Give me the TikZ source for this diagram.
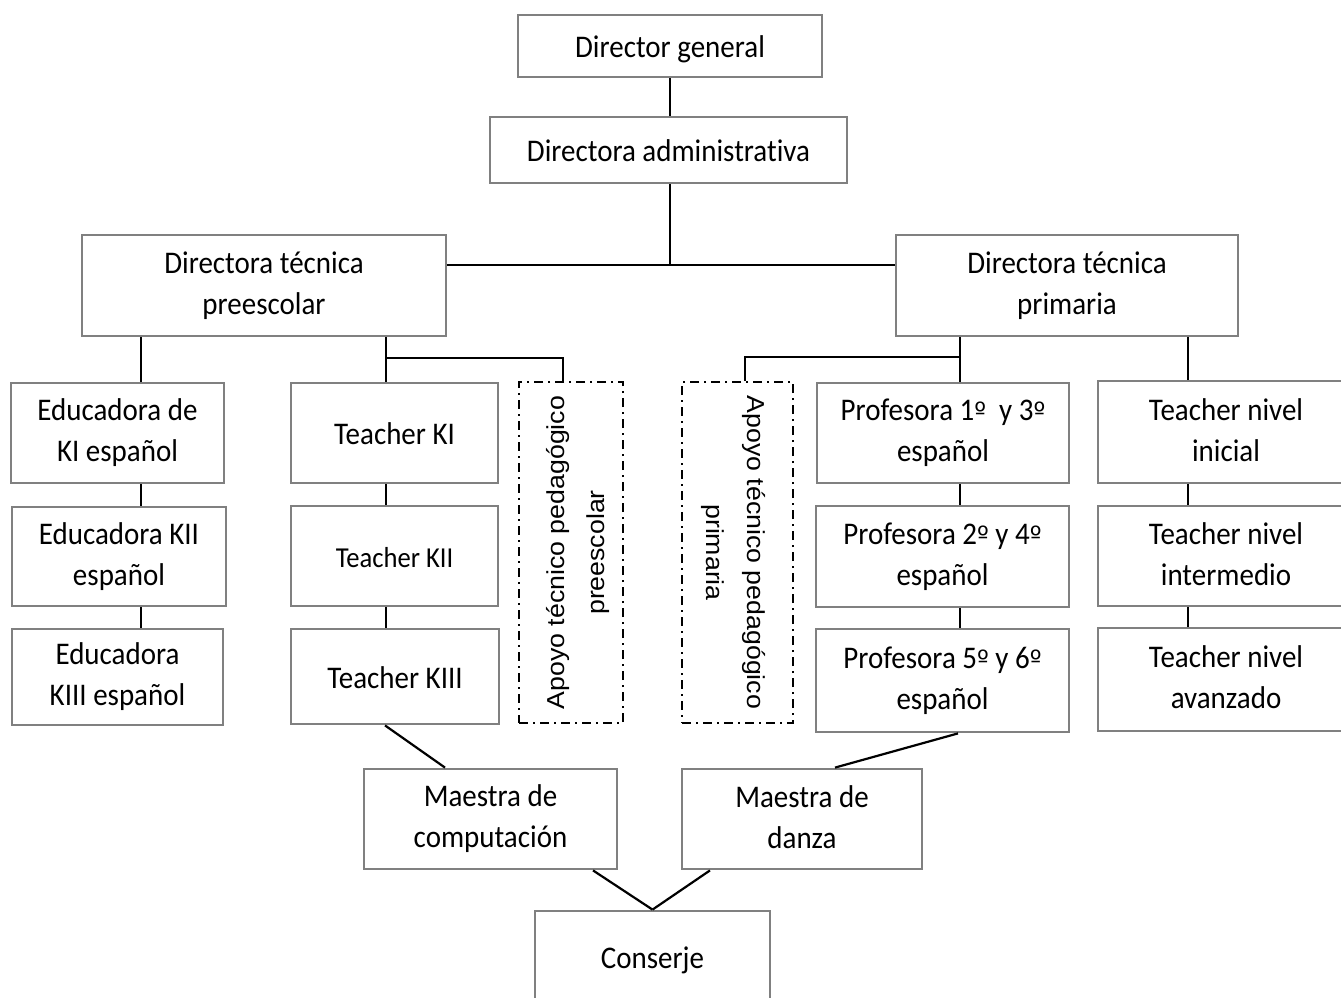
\documentclass[tikz,border=0pt]{standalone}
\usepackage{fontspec}
\setmainfont{Carlito}[FakeStretch=0.92,Ligatures=NoCommon]
\newfontfamily\arialf{Liberation Sans}
\newfontfamily\dvs{DejaVu Sans}
\newcommand\om{{\dvs\fontsize{25}{25}\selectfont º}}
\definecolor{boxgray}{RGB}{128,128,128}
\tikzset{
  box/.style={draw=boxgray, line width=2.8pt, fill=white, align=center, inner sep=0pt,
    font=\fontsize{31.5}{41}\selectfont,
    execute at begin node={\rule{0pt}{27.5pt}},
    execute at end node={\rule[-4pt]{0pt}{0pt}}},
  apbox/.style={draw=black, line width=2.2pt, dash pattern=on 9pt off 5pt on 2pt off 5pt,
    inner sep=0pt, fill=white},
  aplabel/.style={inner sep=0pt},
  conn/.style={line width=2.2pt, draw=black},
}
\newcommand\aptext[2]{\rotatebox{#1}{\scalebox{1}[0.92]{\arialf\fontsize{26.7}{43.5}\selectfont\begin{tabular}{@{}c@{}}#2\end{tabular}}}}
\begin{document}
\begin{tikzpicture}[x=1pt,y=-1pt]
\useasboundingbox (0,0) rectangle (1341,998);
\fill[white] (0,0) rectangle (1341,998);
\clip (0,0) rectangle (1341,998);

% helper coordinates for connector positions
\coordinate (J) at (670,265);
\coordinate (xE) at (141,0);
\coordinate (xT) at (386,0);
\coordinate (brL) at (563,358);
\coordinate (xP) at (960,0);
\coordinate (brR) at (745,357);
\coordinate (xN) at (1188,0);

\node[box, minimum width=304pt, minimum height=62pt] (dg) at (670,46) {Director general};
\node[box, minimum width=357pt, minimum height=66pt] (adm) at (668.5,150) {Directora administrativa};
\node[box, minimum width=364pt, minimum height=101pt] (pre) at (264,285.5) {Directora técnica\\preescolar};
\node[box, minimum width=342pt, minimum height=101pt] (pri) at (1067,285.5) {Directora técnica\\primaria};

\node[box, minimum width=213pt, minimum height=100pt] (e1) at (117.5,433) {Educadora de\\KI español};
\node[box, minimum width=214pt, minimum height=99pt] (e2) at (119,556.5) {Educadora KII\\español};
\node[box, minimum width=211pt, minimum height=96pt] (e3) at (117.5,677) {Educadora\\KIII español};

\node[box, minimum width=207pt, minimum height=100pt] (t1) at (394.5,433) {Teacher KI};
\node[box, minimum width=207pt, minimum height=100pt, font=\fontsize{28.9}{37}\selectfont] (t2) at (394.5,556) {Teacher KII};
\node[box, minimum width=208pt, minimum height=95pt] (t3) at (395,676.5) {Teacher KIII};

\node[apbox, minimum width=104pt, minimum height=341pt] (ap1) at (571,552.5) {};
\node[aplabel] (ap1t) at (576,552.5) {\aptext{90}{Apoyo técnico pedagógico\\preescolar}};
\node[apbox, minimum width=111pt, minimum height=341pt] (ap2) at (737.5,552.5) {};
\node[aplabel] (ap2t) at (735,552.5) {\aptext{-90}{Apoyo técnico pedagógico\\primaria}};

\node[box, minimum width=252pt, minimum height=100pt] (p1) at (943,433) {Profesora 1\om~ y 3\om\\español};
\node[box, minimum width=253pt, minimum height=101pt] (p2) at (942.5,556.5) {Profesora 2\om{} y 4\om\\español};
\node[box, minimum width=253pt, minimum height=103pt] (p3) at (942.5,680.5) {Profesora 5\om{} y 6\om\\español};

\node[box, minimum width=256pt, minimum height=102pt] (n1) at (1226,432) {Teacher nivel\\inicial};
\node[box, minimum width=256pt, minimum height=100pt] (n2) at (1226,556) {Teacher nivel\\intermedio};
\node[box, minimum width=256pt, minimum height=103pt] (n3) at (1226,679.5) {Teacher nivel\\avanzado};

\node[box, minimum width=253pt, minimum height=100pt] (mc) at (490.5,819) {Maestra de\\computación};
\node[box, minimum width=240pt, minimum height=100pt] (md) at (802,819) {Maestra de\\danza};
\node[box, minimum width=235pt, minimum height=92pt] (cs) at (652.5,957) {Conserje};

% connectors
\draw[conn] (dg.south) -- (adm.north -| dg.south);
\draw[conn] (adm.south -| J) -- (J);
\draw[conn] (J -| pre.east) -- (J -| pri.west);

\draw[conn] (pre.south -| xE) -- (e1.north -| xE);
\draw[conn] (e1.south -| xE) -- (e2.north -| xE);
\draw[conn] (e2.south -| xE) -- (e3.north -| xE);

\draw[conn] (pre.south -| xT) -- (t1.north -| xT);
\draw[conn] (xT |- brL) -- (brL) -- (ap1.north -| brL);
\draw[conn] (t1.south -| xT) -- (t2.north -| xT);
\draw[conn] (t2.south -| xT) -- (t3.north -| xT);

\draw[conn] (pri.south -| xP) -- (p1.north -| xP);
\draw[conn] (xP |- brR) -- (brR) -- (ap2.north -| brR);
\draw[conn] (p1.south -| xP) -- (p2.north -| xP);
\draw[conn] (p2.south -| xP) -- (p3.north -| xP);

\draw[conn] (pri.south -| xN) -- (n1.north -| xN);
\draw[conn] (n1.south -| xN) -- (n2.north -| xN);
\draw[conn] (n2.south -| xN) -- (n3.north -| xN);

\coordinate (a1) at (385,0);
\coordinate (a2) at (445,0);
\coordinate (a3) at (958,0);
\coordinate (a4) at (835,0);
\coordinate (a5) at (593,0);
\coordinate (a6) at (710,0);
\draw[conn] (t3.south -| a1) -- (mc.north -| a2);
\draw[conn] (p3.south -| a3) -- (md.north -| a4);
\draw[conn] (mc.south -| a5) -- (cs.north);
\draw[conn] (md.south -| a6) -- (cs.north);
\end{tikzpicture}
\end{document}
